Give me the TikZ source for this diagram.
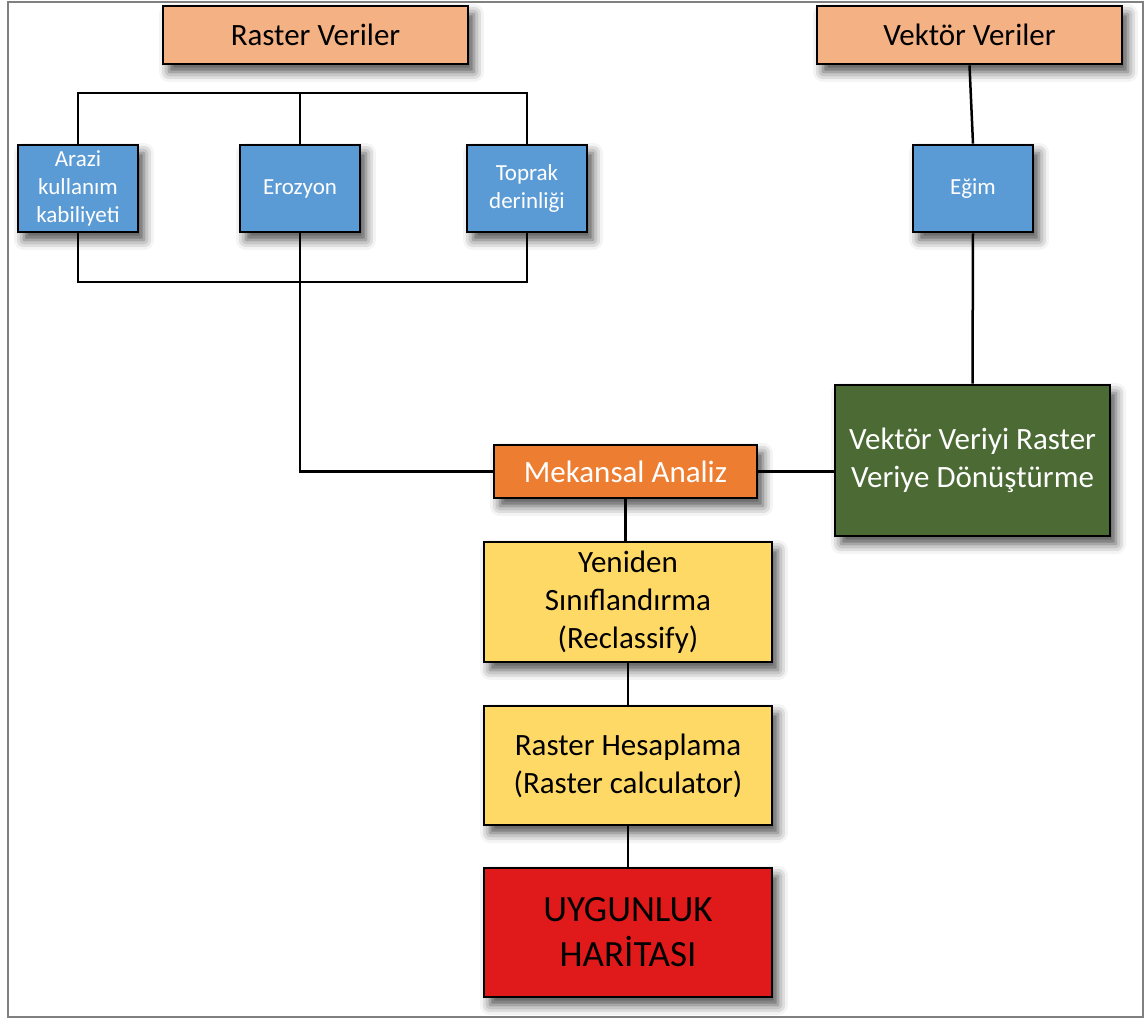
\documentclass[tikz,border=0pt]{standalone}
\usepackage{fontspec}
\setmainfont{Carlito}
\usetikzlibrary{shadows.blur}

\definecolor{peach}{HTML}{F4B183}
\definecolor{skyblue}{HTML}{5B9BD5}
\definecolor{leafgreen}{HTML}{4B6A34}
\definecolor{tangerine}{HTML}{ED7D31}
\definecolor{gold}{HTML}{FFD966}
\definecolor{alarmred}{HTML}{E01A1A}

\begin{document}
\begin{tikzpicture}[x=0.5pt,y=-0.5pt,
  box/.style={draw=black,line width=1.4pt,align=center,inner sep=0pt,
    blur shadow={shadow xshift=3pt,shadow yshift=-4pt,shadow blur radius=5pt,shadow opacity=70}},
  sourcebox/.style={box,fill=peach,minimum width=152.5pt,minimum height=29pt,
    font=\fontsize{15.5}{19}\selectfont},
  layerbox/.style={box,fill=skyblue,text=white,minimum width=60pt,minimum height=43.5pt,
    font=\fontsize{11.5}{14.2}\selectfont},
  stepbox/.style={box,minimum width=144pt,font=\fontsize{15.5}{19}\selectfont},
  link/.style={draw=black,line width=1.25pt}]
\useasboundingbox (0,0) rectangle (1148,1019);
\draw[gray,line width=1pt] (8,2) rectangle (1143,1017);

% kaynak veriler
\node[sourcebox] (raster) at (315.5,35) {Raster Veriler};
\node[sourcebox] (vektor) at (969.5,35) {Vektör Veriler};

% katmanlar
\node[layerbox] (arazi) at (78,188.5) {Arazi\\kullanım\\kabiliyeti};
\node[layerbox] (erozyon) at (300,188.5) {Erozyon};
\node[layerbox] (toprak) at (527,188.5) {Toprak\\derinliği};
\node[layerbox] (egim) at (973,188.5) {Eğim};

% islemler
\node[box,fill=leafgreen,text=white,minimum width=137.5pt,minimum height=75.5pt,
  font=\fontsize{15.5}{19}\selectfont] (donusum) at (972.5,460.5)
  {Vektör Veriyi Raster\\Veriye Dönüştürme};
\node[box,fill=tangerine,text=white,minimum width=131.5pt,minimum height=26.5pt,
  font=\fontsize{15.5}{19}\selectfont] (mekansal) at (625.5,471.5) {Mekansal Analiz};
\node[stepbox,fill=gold,minimum height=60pt] (yeniden) at (628,602)
  {Yeniden\\Sınıflandırma\\(Reclassify)};
\node[stepbox,fill=gold,minimum height=59.5pt] (hesap) at (628,765.5)
  {Raster Hesaplama\\(Raster calculator)};
\node[stepbox,fill=alarmred,minimum height=64.5pt,
  font=\fontsize{18.5}{22.5}\selectfont] (uygunluk) at (628,932.5)
  {UYGUNLUK\\HARİTASI};

% baglantilar
\coordinate (bustop) at (300,93);
\coordinate (busbot) at (300,282);
\path[link] (arazi.north) |- (bustop) -| (toprak.north);
\path[link] (erozyon.north) -- (bustop);
\path[link] (arazi.south) |- (busbot) -| (toprak.south);
\path[link] (erozyon.south) |- (mekansal.west);
\path[link] (vektor.south) -- (egim.north);
\path[link] (egim.south) -- (donusum.north);
\path[link] (mekansal.east) -- (mekansal.east -| donusum.west);
\path[link] (mekansal.south) -- (mekansal.south |- yeniden.north);
\path[link] (yeniden.south) -- (hesap.north);
\path[link] (hesap.south) -- (uygunluk.north);
\end{tikzpicture}
\end{document}
